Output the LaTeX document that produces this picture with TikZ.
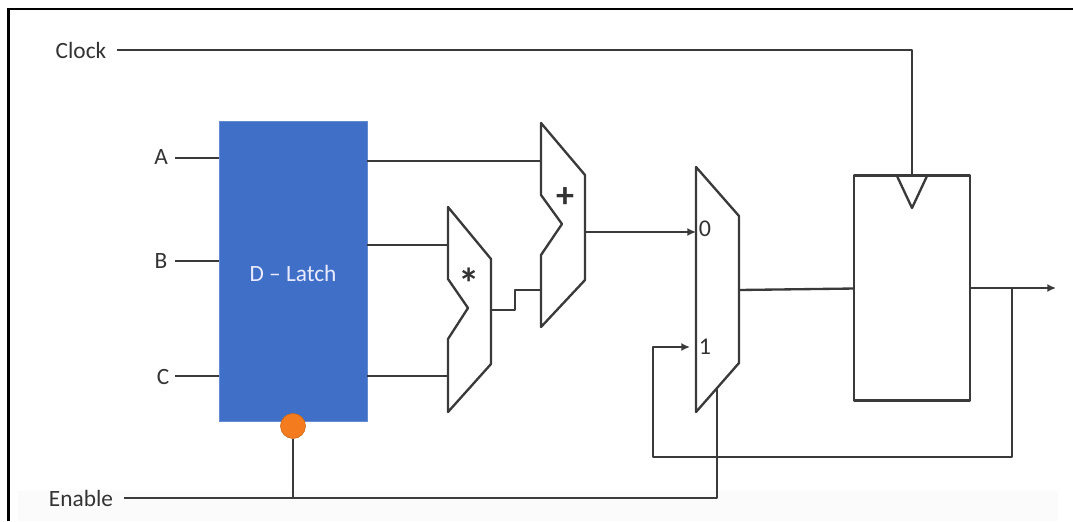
\documentclass[tikz,border=0pt]{standalone}
\usepackage{fontspec}
\setmainfont{Carlito}
\usetikzlibrary{arrows.meta,calc}
\definecolor{wire}{HTML}{3A3A3A}
\definecolor{latchblue}{HTML}{3F6FC6}
\definecolor{dotorange}{HTML}{F57C1E}
\definecolor{labelgray}{HTML}{333333}
\tikzset{
  wireline/.style={draw=wire,line width=1.75pt,line join=round},
  arrowline/.style={wireline,-{Latex[length=6.5pt,width=6pt]}},
  block/.style={draw=wire,line width=1.75pt,line join=round,fill=white},
  sig/.style={text=labelgray,font=\fontsize{17.5}{18}\selectfont,inner sep=0pt},
  sign/.style={text=labelgray,inner sep=0pt},
  port/.style={text=labelgray,font=\fontsize{18}{18}\selectfont,inner sep=0pt},
}
\begin{document}
\begin{tikzpicture}[x=0.75pt,y=-0.75pt]
\useasboundingbox (0,0) rectangle (1073,521);
\fill[white] (0,0) rectangle (1073,521);
\fill[black!1.5] (18,491) rectangle (1058,521);
\draw[black,line width=2pt] (8.5,521) -- (8.5,9) -- (1073,9);

% labels
\node[sig] (clock) at (81,50) {Clock};
\node[sig] (a) at (161,157) {A};
\node[sig] (b) at (161,261) {B};
\node[sig] (c) at (163,377) {C};
\node[sig] (enable) at (81,498) {Enable};

% latch
\node[fill=latchblue,draw=latchblue!80!white,line width=0.5pt,minimum width=148*0.75pt,minimum height=300*0.75pt,inner sep=0pt,anchor=center] (latch) at (293,271) {};
\node[inner sep=0pt,text=blue!8!white,font=\fontsize{17.5}{18}\selectfont] (latchtext) at (293,273) {D -- Latch};
\node[circle,fill=dotorange,draw=dotorange!85!black,line width=0.5pt,minimum size=25*0.75pt,inner sep=0pt] (dot) at (293,426) {};

% port coordinates
\coordinate (clkin) at (117,50);
\coordinate (clkturn) at (912,50);
\coordinate (ain) at (175,158);
\coordinate (ainr) at (219,158);
\coordinate (bin) at (175,261);
\coordinate (binr) at (219,261);
\coordinate (cin) at (175,376);
\coordinate (cinr) at (219,376);
\coordinate (aout) at (367,161);
\coordinate (addA) at (541,161);
\coordinate (bout) at (367,245);
\coordinate (mulB) at (448,245);
\coordinate (cout) at (367,376);
\coordinate (mulC) at (448,376);
\coordinate (mulout) at (491,310);
\coordinate (s1) at (515,310);
\coordinate (s2) at (515,290);
\coordinate (addB) at (541,290);
\coordinate (addout) at (585,232);
\coordinate (mux0) at (696,232);
\coordinate (muxout) at (739,290);
\coordinate (regin) at (855,288.5);
\coordinate (regclk) at (912,176);
\coordinate (regout) at (969.5,288);
\coordinate (qend) at (1056,288);
\coordinate (branch) at (1012,288);
\coordinate (fb1) at (1012,457);
\coordinate (fb2) at (653,457);
\coordinate (fb3) at (653,347);
\coordinate (mux1) at (690,347);
\coordinate (enin) at (124,498);
\coordinate (enstem) at (293,498);
\coordinate (enturn) at (717,498);
\coordinate (ensel) at (717,388);

% connectors
\draw[wireline] (clkin) -- (clkturn) -- (regclk);
\draw[wireline] (ain) -- (ainr);
\draw[wireline] (bin) -- (binr);
\draw[wireline] (cin) -- (cinr);
\draw[wireline] (aout) -- (addA);
\draw[wireline] (bout) -- (mulB);
\draw[wireline] (cout) -- (mulC);
\draw[wireline] (mulout) -- (s1) -- (s2) -- (addB);
\draw[arrowline] (addout) -- (mux0);
\draw[wireline] (muxout) -- (regin);
\draw[arrowline] (regout) -- (qend);
\draw[arrowline] (branch) -- (fb1) -- (fb2) -- (fb3) -- (mux1);
\draw[wireline] (enin) -- (enturn) -- (ensel);
\draw[wireline] (enstem) -- (dot);

% blocks
\draw[block] (541,123) -- (585,175) -- (585,280) -- (541,327) -- (541,255) -- (562,224) -- (541,195) -- cycle;
\draw[block] (448,207) -- (491,259) -- (491,364) -- (448,412) -- (448,339) -- (468,308) -- (448,279) -- cycle;
\draw[block,fill=none] (696,167) -- (739,216) -- (739,363) -- (696,412) -- cycle;
\node[block,minimum width=115.5*0.75pt,minimum height=225*0.75pt,inner sep=0pt] (reg) at (912,288) {};
\draw[wireline] (897,176) -- (912,208) -- (927,176);

% signs
\node[sign,font=\bfseries\fontsize{27}{27}\selectfont] (plus) at (565,198) {+};
\node[sign,font=\bfseries\fontsize{32}{32}\selectfont] (star) at (469.5,283) {*};
\node[port] (p0) at (705,229) {0};
\node[port] (p1) at (705,347) {1};
\end{tikzpicture}
\end{document}
